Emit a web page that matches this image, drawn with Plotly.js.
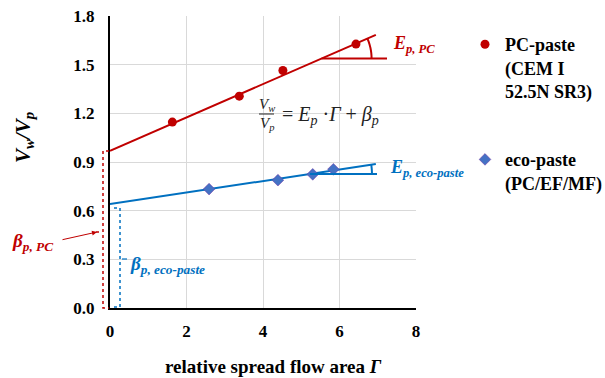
<!DOCTYPE html>
<html><head><meta charset="utf-8">
<script src="https://cdn.plot.ly/plotly-3.0.1.min.js"></script>
<style>body{margin:0;background:#fff}#c{width:605px;height:378px}</style>
</head><body><div id="c"></div>
<script>
// ---- data ----
var pcX = [1.63, 3.38, 4.52, 6.43];
var pcY = [1.146, 1.306, 1.464, 1.627];
var ecoX = [2.59, 4.39, 5.30, 5.84];
var ecoY = [0.733, 0.788, 0.824, 0.855];
var pcFitX = [0, 6.95];
var pcFitY = [0.969, 1.684];
var ecoFitX = [0, 6.95];
var ecoFitY = [0.641, 0.887];
var xTicks = [0, 2, 4, 6, 8];
var yTicks = [0.0, 0.3, 0.6, 0.9, 1.2, 1.5, 1.8];
var yTickText = ['0.0', '0.3', '0.6', '0.9', '1.2', '1.5', '1.8'];
var seriesNames = ['PC-paste<br>(CEM I<br>52.5N SR3)', 'eco-paste<br>(PC/EF/MF)'];

var RED = '#C00000', BLUE = '#0070C0', DIAM = '#4472C4';
var SERIF = '"Liberation Serif", "Times New Roman", "DejaVu Serif", serif';

// plot geometry
var L = 110, R = 189, T = 16, B = 70, W = 605, H = 378;
var pw = W - L - R, ph = H - T - B;
var xr = [0, 8], yr = [0, 1.8];
function px2x(p) { return xr[0] + (p - L) / pw * (xr[1] - xr[0]); }
function py2y(p) { return yr[0] + (T + ph - p) / ph * (yr[1] - yr[0]); }
function px2paper(p) { return (p - L) / pw; }
function py2paper(p) { return (T + ph - p) / ph; }

// angle marks computed from fit lines
function angleMark(fx, fy, hy, hEndX, radiusPx, color) {
  var slope = (fy[1] - fy[0]) / (fx[1] - fx[0]);
  var xi = (hy - fy[0]) / slope;
  var sx = pw / (xr[1] - xr[0]), sy = ph / (yr[1] - yr[0]);
  var ang = Math.atan(slope * sy / sx);
  var pts = [];
  for (var i = 0; i <= 12; i++) {
    var a = ang * i / 12;
    pts.push([xi + radiusPx * Math.cos(a) / sx, hy + radiusPx * Math.sin(a) / sy]);
  }
  var path = 'M' + pts.map(function (p) { return p[0] + ',' + p[1]; }).join(' L');
  return [
    {type: 'line', xref: 'x', yref: 'y', x0: xi, x1: hEndX, y0: hy, y1: hy, line: {color: color, width: 2}},
    {type: 'path', xref: 'x', yref: 'y', path: path, line: {color: color, width: 2}}
  ];
}

var shapes = [];
shapes = shapes.concat(angleMark(pcFitX, pcFitY, py2y(58.5), px2x(387), 50, RED));
shapes = shapes.concat(angleMark(ecoFitX, ecoFitY, py2y(174), px2x(377), 62, BLUE));

// red bracket (beta PC)
var rTop = py2paper(151), rX = px2paper(103), rIn = px2paper(109);
shapes.push({type: 'path', xref: 'paper', yref: 'paper',
  path: 'M' + rIn + ',' + rTop + ' L' + rX + ',' + rTop + ' L' + rX + ',0 L' + rIn + ',0',
  line: {color: RED, width: 1.5, dash: 'dot'}});
// blue bracket (beta eco)
var bTop = py2paper(208), bX = px2paper(120), bIn = px2paper(114);
shapes.push({type: 'path', xref: 'paper', yref: 'paper',
  path: 'M' + bIn + ',' + bTop + ' L' + bX + ',' + bTop + ' L' + bX + ',' + py2paper(307) + ' L' + bIn + ',' + py2paper(307),
  line: {color: BLUE, width: 1.5, dash: 'dot'}});
shapes.push({type: 'line', xref: 'paper', yref: 'paper', x0: px2paper(122), x1: px2paper(127),
  y0: py2paper(259), y1: py2paper(259), line: {color: BLUE, width: 1.2}});
shapes.push({type: 'line', xref: 'paper', yref: 'paper', x0: px2paper(96), x1: px2paper(102),
  y0: py2paper(232), y1: py2paper(232), line: {color: RED, width: 1.5, dash: 'dot'}});
// equation fraction bar
shapes.push({type: 'line', xref: 'paper', yref: 'paper', x0: px2paper(259), x1: px2paper(274),
  y0: py2paper(114), y1: py2paper(114), line: {color: '#222', width: 1}});

var traces = [
  {x: pcFitX, y: pcFitY, mode: 'lines', line: {color: RED, width: 2}, showlegend: false, hoverinfo: 'skip'},
  {x: ecoFitX, y: ecoFitY, mode: 'lines', line: {color: BLUE, width: 2}, showlegend: false, hoverinfo: 'skip'},
  {x: pcX, y: pcY, mode: 'markers', name: seriesNames[0], legendgroup: 'a',
   marker: {color: RED, size: 9, symbol: 'circle'}},
  {x: ecoX, y: ecoY, mode: 'markers', name: seriesNames[1], legendgroup: 'b',
   marker: {color: DIAM, size: 9, symbol: 'diamond', line: {color: '#7030A0', width: 0.5}}}
];

function ann(text, pxX, pxY, color, size, xanchor, extra) {
  var a = {text: text, xref: 'paper', yref: 'paper', x: px2paper(pxX), y: py2paper(pxY),
    xanchor: xanchor || 'left', yanchor: 'middle', showarrow: false,
    font: {family: SERIF, size: size, color: color}};
  if (extra) for (var k in extra) a[k] = extra[k];
  return a;
}

var annotations = [
  ann('<b><i>E<sub>p, PC</sub></i></b>', 391, 44, RED, 18),
  ann('<b><i>E<sub>p, eco-paste</sub></i></b>', 388, 168, BLUE, 18),
  ann('<b><i>β<sub>p, PC</sub></i></b>', 10, 242, RED, 19),
  ann('<b><i>β<sub>p, eco-paste</sub></i></b>', 128, 265, BLUE, 19),
  ann('<i>V<sub>w</sub></i>', 266.5, 105, '#222', 15, 'center'),
  ann('<i>V<sub>p</sub></i>', 266.5, 124, '#222', 15, 'center'),
  ann('= <i>E<sub>p</sub></i> ·<i>Γ</i> + <i>β<sub>p</sub></i>', 280, 115, '#222', 20),
  ann('<b><i>V<sub>w</sub>/V<sub>p</sub></i></b>', 24, 138, '#000', 21, 'center', {textangle: -90}),
  ann('<b>relative spread flow area <i>Γ</i></b>', 273, 366, '#000', 19, 'center'),
  {text: '', xref: 'paper', yref: 'paper', x: px2paper(97), y: py2paper(232),
   ax: -36, ay: 8, showarrow: true, arrowhead: 2, arrowsize: 1, arrowwidth: 1, arrowcolor: RED}
];

var layout = {
  width: W, height: H,
  margin: {l: L, r: R, t: T, b: B, autoexpand: false},
  paper_bgcolor: '#fff', plot_bgcolor: '#fff',
  font: {family: SERIF},
  xaxis: {range: xr, tickvals: xTicks, ticktext: xTicks.map(String), showgrid: true,
    gridcolor: '#D9D9D9', gridwidth: 1, zeroline: false, showline: true, linecolor: '#000', linewidth: 2,
    ticks: '', ticklabelstandoff: 7, tickfont: {family: SERIF, size: 17, color: '#000', weight: 'bold'}},
  yaxis: {range: yr, tickvals: yTicks, ticktext: yTickText, showgrid: true,
    gridcolor: '#D9D9D9', gridwidth: 1, zeroline: false, showline: true, linecolor: '#000', linewidth: 2,
    ticks: '', ticklabelstandoff: 10, tickfont: {family: SERIF, size: 17, color: '#000', weight: 'bold'}},
  showlegend: true,
  legend: {x: px2paper(465), y: py2paper(26), xanchor: 'left', yanchor: 'top', valign: 'top',
    tracegroupgap: 42, itemwidth: 30, font: {family: SERIF, size: 18, color: '#000', weight: 'bold'},
    bgcolor: 'rgba(0,0,0,0)'},
  shapes: shapes,
  annotations: annotations
};

Plotly.newPlot('c', traces, layout, {displayModeBar: false, staticPlot: true});
</script></body></html>
